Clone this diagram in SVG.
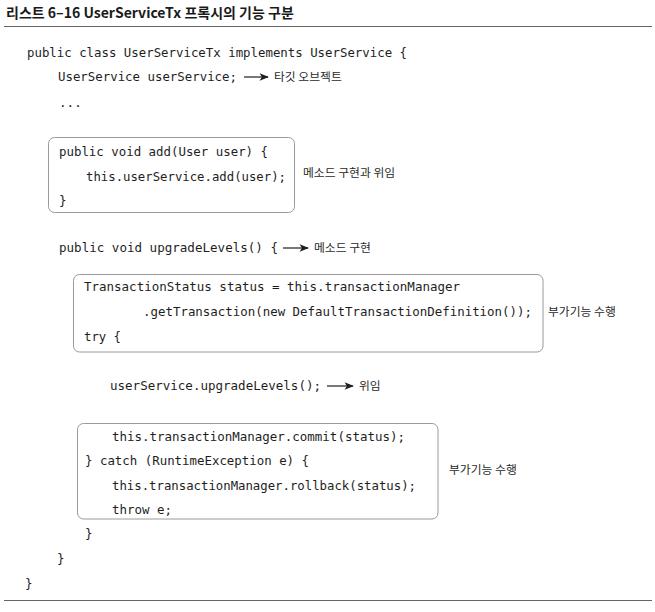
<svg xmlns="http://www.w3.org/2000/svg" width="655" height="612" viewBox="0 0 655 612">
<defs>
<style>
.title{font-family:"Noto Sans CJK KR","Noto Sans",sans-serif;font-weight:bold;font-size:14px;fill:#1a1a1a;}
.code{font-family:"DejaVu Sans Mono","Liberation Mono",monospace;font-size:12.6px;fill:#1e1e1e;}
.note{font-family:"Noto Sans CJK KR","Noto Sans",sans-serif;font-size:11.8px;fill:#2a2a2a;}
.box{fill:none;stroke:#9a9a9a;stroke-width:1;}
.rule{stroke:#666;stroke-width:1;}
.arr{stroke:#1e1e1e;stroke-width:1.2;fill:none;marker-end:url(#head);}
</style>
<marker id="head" viewBox="0 0 10 8" refX="9" refY="4" markerWidth="10" markerHeight="7.5" markerUnits="userSpaceOnUse" orient="auto">
<path d="M0,0 L10,4 L0,8 L2.5,4 z" fill="#1e1e1e"/>
</marker>
</defs>
<rect width="655" height="612" fill="#ffffff"/>
<g id="header">
<text class="title" x="6" y="18">리스트 6–16 UserServiceTx 프록시의 기능 구분</text>
<line class="rule" x1="4" y1="26.5" x2="652" y2="26.5"/>
<line class="rule" x1="4" y1="600.5" x2="652" y2="600.5"/>
</g>
<g id="class-code">
<text class="code" x="27" y="57" textLength="380" lengthAdjust="spacingAndGlyphs">public class UserServiceTx implements UserService {</text>
<text class="code" x="58" y="81" textLength="179" lengthAdjust="spacingAndGlyphs">UserService userService;</text>
<text class="code" x="59" y="107">...</text>
<text class="code" x="59" y="252" textLength="219" lengthAdjust="spacingAndGlyphs">public void upgradeLevels() {</text>
<text class="code" x="110" y="390" textLength="211" lengthAdjust="spacingAndGlyphs">userService.upgradeLevels();</text>
<text class="code" x="85" y="538">}</text>
<text class="code" x="57" y="563">}</text>
<text class="code" x="25" y="588">}</text>
</g>
<g id="box-add">
<rect class="box" x="48.5" y="137.5" width="246" height="75" rx="6"/>
<text class="code" x="59" y="156" textLength="209" lengthAdjust="spacingAndGlyphs">public void add(User user) {</text>
<text class="code" x="86" y="181" textLength="200" lengthAdjust="spacingAndGlyphs">this.userService.add(user);</text>
<text class="code" x="59" y="205">}</text>
</g>
<g id="box-begin">
<rect class="box" x="73.5" y="274.5" width="469.5" height="77.5" rx="6"/>
<text class="code" x="84" y="291" textLength="376" lengthAdjust="spacingAndGlyphs">TransactionStatus status = this.transactionManager</text>
<text class="code" x="143" y="316" textLength="389" lengthAdjust="spacingAndGlyphs">.getTransaction(new DefaultTransactionDefinition());</text>
<text class="code" x="84" y="341" textLength="37" lengthAdjust="spacingAndGlyphs">try {</text>
</g>
<g id="box-commit">
<rect class="box" x="77.5" y="423.5" width="360.5" height="95.5" rx="6"/>
<text class="code" x="112" y="441" textLength="293" lengthAdjust="spacingAndGlyphs">this.transactionManager.commit(status);</text>
<text class="code" x="85" y="465" textLength="224" lengthAdjust="spacingAndGlyphs">} catch (RuntimeException e) {</text>
<text class="code" x="112" y="490" textLength="304" lengthAdjust="spacingAndGlyphs">this.transactionManager.rollback(status);</text>
<text class="code" x="112" y="514" textLength="60" lengthAdjust="spacingAndGlyphs">throw e;</text>
</g>
<g id="connectors">
<line class="arr" x1="244" y1="77" x2="268" y2="77"/>
<line class="arr" x1="283" y1="248" x2="308" y2="248"/>
<line class="arr" x1="327" y1="386" x2="353" y2="386"/>
</g>
<g id="labels">
<text class="note" x="274" y="81">타깃 오브젝트</text>
<text class="note" x="303" y="177">메소드 구현과 위임</text>
<text class="note" x="314" y="252">메소드 구현</text>
<text class="note" x="548" y="316">부가기능 수행</text>
<text class="note" x="359" y="390">위임</text>
<text class="note" x="449" y="474">부가기능 수행</text>
</g>
</svg>
